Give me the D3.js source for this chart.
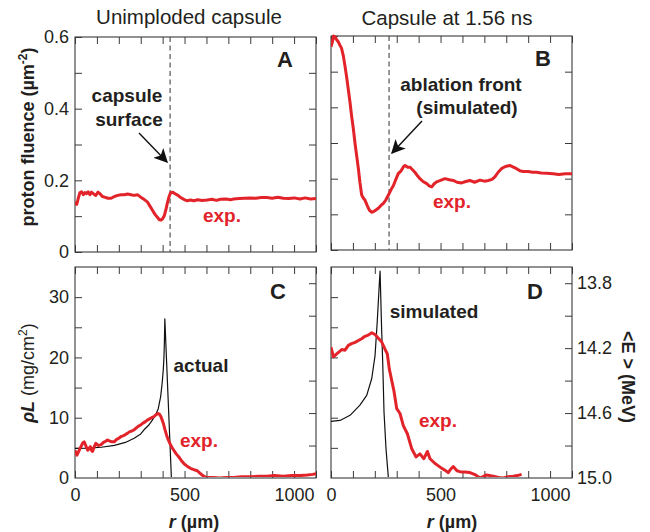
<!DOCTYPE html>
<html><head><meta charset="utf-8">
<script src="https://cdnjs.cloudflare.com/ajax/libs/d3/7.8.5/d3.min.js"></script>
<style>
body{margin:0;background:#fff;}
svg{display:block;font-family:"Liberation Sans",Arial,Helvetica,sans-serif;}
</style></head><body>
<svg id="c" width="650" height="532"></svg>
<script>
// ---------- DATA ----------
const titles = ["Unimploded capsule", "Capsule at 1.56 ns"];
const panelLetters = ["A", "B", "C", "D"];
const rTicksLabeled = [0, 500, 1000];
const fluenceTicksLabeled = [0, 0.2, 0.4, 0.6];
const rhoLTicksLabeled = [0, 10, 20, 30];
const energyTicksLabeled = [13.8, 14.2, 14.6, 15.0];

// Panel A: proton fluence, unimploded capsule (r µm, fluence µm^-2)
const fluenceA = [[0,0.140],[8,0.133],[15,0.150],[22,0.165],[30,0.168],[38,0.160],[45,0.166],[52,0.163],[60,0.168],[68,0.160],[75,0.167],[85,0.162],[95,0.158],[105,0.167],[115,0.162],[125,0.155],[135,0.153],[150,0.150],[165,0.150],[180,0.155],[195,0.158],[210,0.160],[225,0.160],[240,0.162],[255,0.160],[270,0.158],[285,0.160],[300,0.153],[315,0.147],[330,0.140],[342,0.128],[353,0.117],[365,0.105],[376,0.097],[385,0.090],[393,0.089],[400,0.093],[408,0.102],[415,0.118],[421,0.135],[428,0.152],[436,0.165],[445,0.167],[459,0.162],[470,0.158],[482,0.152],[497,0.147],[512,0.143],[527,0.145],[542,0.143],[560,0.146],[580,0.144],[603,0.145],[625,0.147],[645,0.144],[664,0.147],[690,0.148],[710,0.146],[724,0.148],[750,0.149],[775,0.150],[800,0.151],[825,0.150],[850,0.152],[876,0.152],[900,0.150],[925,0.153],[951,0.150],[975,0.149],[1000,0.151],[1027,0.148],[1050,0.151],[1075,0.148],[1100,0.149]];
// Panel B: proton fluence, capsule at 1.56 ns
const fluenceB = [[0,0.570],[5,0.580],[12,0.600],[18,0.598],[25,0.590],[33,0.584],[40,0.575],[48,0.566],[56,0.545],[64,0.515],[72,0.482],[79,0.450],[87,0.413],[94,0.376],[102,0.340],[109,0.302],[117,0.265],[125,0.228],[132,0.190],[140,0.154],[148,0.145],[155,0.140],[165,0.125],[175,0.112],[185,0.106],[193,0.107],[205,0.112],[216,0.117],[228,0.125],[239,0.131],[250,0.140],[262,0.154],[273,0.168],[285,0.181],[296,0.198],[307,0.214],[320,0.222],[330,0.233],[338,0.237],[350,0.232],[361,0.232],[372,0.225],[383,0.218],[395,0.208],[406,0.200],[420,0.192],[437,0.186],[448,0.180],[460,0.177],[470,0.185],[482,0.191],[500,0.195],[520,0.200],[540,0.197],[558,0.195],[575,0.190],[596,0.188],[615,0.192],[634,0.195],[655,0.190],[680,0.196],[700,0.193],[718,0.195],[735,0.198],[748,0.205],[763,0.218],[778,0.228],[796,0.234],[816,0.237],[830,0.233],[847,0.228],[862,0.222],[877,0.220],[900,0.220],[920,0.218],[938,0.218],[960,0.216],[985,0.215],[1014,0.214],[1040,0.212],[1070,0.214],[1100,0.214]];
// Panel C: areal density rhoL (mg/cm^2)
const rhoLExpC = [[0,4.6],[9,3.8],[18,4.5],[27,5.2],[35,5.8],[42,6.0],[50,5.3],[58,4.6],[64,4.9],[70,5.2],[75,4.6],[80,4.4],[88,5.2],[95,5.75],[105,5.4],[118,5.5],[130,5.9],[140,6.1],[148,6.3],[160,6.1],[170,6.0],[179,6.0],[190,6.4],[200,6.6],[209,6.85],[220,7.0],[230,7.2],[239,7.4],[250,7.7],[260,7.8],[270,8.0],[280,8.3],[290,8.6],[300,8.8],[310,9.1],[320,9.3],[330,9.6],[340,9.8],[350,10.0],[361,10.2],[370,10.5],[378,10.7],[385,10.6],[392,10.2],[398,9.6],[403,9.1],[410,8.1],[418,7.1],[425,6.4],[433,5.75],[442,5.1],[451,4.6],[462,4.0],[474,3.5],[485,2.9],[497,2.4],[510,2.0],[527,1.6],[542,1.4],[558,1.2],[570,0.8],[580,0.5],[592,0.2],[603,0.1],[630,0.1],[660,0.0],[690,0.1],[724,0.1],[760,0.2],[800,0.2],[840,0.3],[876,0.3],[910,0.4],[950,0.3],[990,0.4],[1027,0.4],[1060,0.5],[1085,0.6],[1100,0.7]];
const rhoLActualC = [[0,4.9],[60,4.95],[120,5.1],[180,5.4],[230,5.9],[270,6.6],[300,7.3],[315,8.0],[335,8.7],[353,9.6],[368,10.5],[380,11.5],[391,13.5],[398,15.8],[403,18.0],[406,20.0],[408,22.5],[410,26.4],[425,13.2],[440,0],[1100,0]];
// Panel D: rhoL at 1.56 ns
const rhoLExpD = [[0,21.7],[11,20.1],[26,20.6],[49,21.3],[64,21.2],[79,22.0],[94,22.3],[110,22.5],[125,22.8],[140,23.1],[155,23.5],[170,23.7],[186,24.1],[201,23.8],[216,23.2],[231,22.6],[246,21.4],[257,20.6],[266,18.1],[277,16.2],[287,14.5],[300,11.5],[315,10.7],[330,8.7],[349,7.3],[368,4.9],[388,3.5],[406,4.0],[424,3.2],[440,4.4],[452,3.2],[475,2.4],[498,1.8],[520,1.3],[535,0.9],[545,1.4],[558,1.9],[575,1.2],[588,1.05],[610,1.0],[634,0.9],[660,0.5],[680,0.0],[710,0.5],[741,0.3],[765,0.1],[786,0.0],[810,0.2],[832,0.3],[850,0.4],[870,0.6]];
const rhoLSimD = [[0,9.4],[41,9.55],[87,10.4],[132,12.1],[163,13.7],[186,16.5],[201,20.3],[211,25.9],[221,32.5],[224,34.3],[231,24.8],[236,19.2],[242,10.9],[251,4.9],[262,0],[1100,0]];

const markerPositions = {A: 434, B: 265}; // dashed reference lines (µm)

// ---------- LAYOUT ----------
const RED = "#e2232a", INK = "#231f20", AX = "#3a3a3a";
const svg = d3.select("#c");
const panels = [
  {id:"A", x0:75,  x1:316, y0:37,  y1:252},
  {id:"B", x0:331, x1:572, y0:36,  y1:250},
  {id:"C", x0:75,  x1:316, y0:267, y1:478},
  {id:"D", x0:331, x1:572, y0:267, y1:478}
];
panels.forEach(p=>{
  p.x = d3.scaleLinear().domain([0,1100]).range([p.x0,p.x1]);
  if (p.id==="A"||p.id==="B") p.y = d3.scaleLinear().domain([0,0.6]).range([p.y1,p.y0]);
  else p.y = d3.scaleLinear().domain([0,35]).range([p.y1,p.y0]);
  p.e = d3.scaleLinear().domain([13.7,15.0]).range([p.y0,p.y1]);
});
const P = Object.fromEntries(panels.map(p=>[p.id,p]));

function styleAxis(g){
  g.select(".domain").remove();
  g.selectAll(".tick line").attr("stroke",AX).attr("stroke-width",1);
  g.selectAll(".tick text").attr("fill",INK).style("font-size","18px").style("font-family","'Liberation Sans',Arial,sans-serif");
}
const TS = -7;
const xTicks = d3.range(0,1101,100);

panels.forEach(p=>{
  const g = svg.append("g");
  // top & bottom ticks
  g.append("g").attr("transform",`translate(0,${p.y0})`)
    .call(d3.axisTop(p.x).tickValues(xTicks).tickSize(TS).tickFormat("")).call(styleAxis);
  const bottom = g.append("g").attr("transform",`translate(0,${p.y1})`)
    .call(d3.axisBottom(p.x).tickValues(xTicks).tickSize(TS).tickPadding(10)
      .tickFormat(d => (p.id==="C"||p.id==="D") && rTicksLabeled.includes(d) ? d : "")).call(styleAxis);
  // left ticks
  if (p.id==="A"||p.id==="B"){
    g.append("g").attr("transform",`translate(${p.x0},0)`)
      .call(d3.axisLeft(p.y).tickValues(d3.range(0,0.61,0.1)).tickSize(TS).tickPadding(6)
        .tickFormat(d => p.id==="A" && fluenceTicksLabeled.some(v=>Math.abs(v-d)<1e-6) ? (d<1e-6?"0":d.toFixed(1)) : "")).call(styleAxis);
    g.append("g").attr("transform",`translate(${p.x1},0)`)
      .call(d3.axisRight(p.y).tickValues(d3.range(0.1,0.6,0.1)).tickSize(TS).tickFormat("")).call(styleAxis);
  } else {
    g.append("g").attr("transform",`translate(${p.x0},0)`)
      .call(d3.axisLeft(p.y).tickValues(d3.range(5,35,5)).tickSize(TS).tickPadding(6)
        .tickFormat(d => p.id==="C" && rhoLTicksLabeled.includes(d) ? d : "")).call(styleAxis);
    if (p.id==="C"){
      g.append("g").attr("transform",`translate(0,0)`).append("g")
        .attr("transform",`translate(${p.x0},0)`)
        .call(d3.axisLeft(p.y).tickValues(rhoLTicksLabeled.slice(0,1)).tickSize(0).tickPadding(6).tickFormat(d=>d)).call(styleAxis);
    }
    g.append("g").attr("transform",`translate(${p.x1},0)`)
      .call(d3.axisRight(p.e).tickValues(d3.range(13.8,14.95,0.2)).tickSize(TS).tickPadding(5)
        .tickFormat(d => p.id==="D" && energyTicksLabeled.some(v=>Math.abs(v-d)<1e-6) ? d.toFixed(1) : "")).call(styleAxis);
    if (p.id==="D"){
      g.append("g").attr("transform",`translate(${p.x1},0)`)
        .call(d3.axisRight(p.e).tickValues([15.0]).tickSize(0).tickPadding(5).tickFormat(d=>d.toFixed(1))).call(styleAxis);
    }
  }
  g.append("rect").attr("x",p.x0).attr("y",p.y0).attr("width",p.x1-p.x0).attr("height",p.y1-p.y0)
    .attr("fill","none").attr("stroke",AX).attr("stroke-width",1.1);
  // clip
  svg.append("clipPath").attr("id","clip"+p.id).append("rect")
    .attr("x",p.x0).attr("y",p.y0-2).attr("width",p.x1-p.x0).attr("height",p.y1-p.y0+1);
});

function drawLine(p, data, color, w){
  const line = d3.line().x(d=>p.x(d[0])).y(d=>p.y(d[1]));
  svg.append("path").datum(data).attr("d",line).attr("fill","none")
    .attr("stroke",color).attr("stroke-width",w).attr("stroke-linejoin","round")
    .attr("clip-path",`url(#clip${p.id})`);
}

// dashed markers
["A","B"].forEach(k=>{
  const p=P[k];
  svg.append("line").attr("x1",p.x(markerPositions[k])).attr("x2",p.x(markerPositions[k]))
    .attr("y1",p.y0).attr("y2",p.y1).attr("stroke","#444").attr("stroke-width",1.1).attr("stroke-dasharray","5,3.5");
});

drawLine(P.C, rhoLActualC, "#111", 1.2);
drawLine(P.D, rhoLSimD, "#111", 1.2);
drawLine(P.A, fluenceA, RED, 3);
drawLine(P.B, fluenceB, RED, 3);
drawLine(P.C, rhoLExpC, RED, 3);
drawLine(P.D, rhoLExpD, RED, 3);

// ---------- TEXT ----------
function txt(x,y,s,opt={}){
  return svg.append("text").attr("x",x).attr("y",y).attr("text-anchor",opt.anchor||"middle")
    .attr("fill",opt.fill||INK).style("font-size",(opt.size||19)+"px").style("font-weight",opt.weight||"bold")
    .text(s);
}
txt(189,24,titles[0],{size:20.5,weight:"normal"});
txt(447,25,titles[1],{size:20.5,weight:"normal"});

txt(285,67,panelLetters[0],{size:22});
txt(543,66,panelLetters[1],{size:22});
txt(278,299,panelLetters[2],{size:22});
txt(535,299,panelLetters[3],{size:22});

txt(127,102,"capsule");
txt(129,126,"surface");
txt(461,91,"ablation front");
txt(467,114,"(simulated)");
txt(222,222,"exp.",{fill:RED});
txt(452,208,"exp.",{fill:RED});
txt(199,447,"exp.",{fill:RED});
txt(438,427,"exp.",{fill:RED});
txt(201,372,"actual");
txt(434,318,"simulated");

// arrows
svg.append("defs").append("marker").attr("id","ah").attr("viewBox","0 0 10 10").attr("refX",9).attr("refY",5)
  .attr("markerWidth",14).attr("markerHeight",14).attr("markerUnits","userSpaceOnUse").attr("orient","auto")
  .append("path").attr("d","M0,0 L10,5 L0,10 L2.5,5 Z").attr("fill","#111");
svg.append("line").attr("x1",139).attr("y1",133).attr("x2",167).attr("y2",162)
  .attr("stroke","#111").attr("stroke-width",1.4).attr("marker-end","url(#ah)");
svg.append("line").attr("x1",422).attr("y1",121).attr("x2",392).attr("y2",153)
  .attr("stroke","#111").attr("stroke-width",1.4).attr("marker-end","url(#ah)");

// axis titles
const yl1 = svg.append("text").attr("transform","translate(34,137) rotate(-90)").attr("text-anchor","middle")
  .attr("fill",INK).style("font-size","18px").style("font-weight","bold");
yl1.append("tspan").text("proton fluence (µm");
yl1.append("tspan").attr("dy",-7).style("font-size","12px").text("-2");
yl1.append("tspan").attr("dy",7).text(")");

const yl2 = svg.append("text").attr("transform","translate(34,373) rotate(-90)").attr("text-anchor","middle")
  .attr("fill",INK).style("font-size","18px");
yl2.append("tspan").style("font-weight","bold").style("font-style","italic").text("ρL");
yl2.append("tspan").text(" (mg/cm");
yl2.append("tspan").attr("dy",-7).style("font-size","12px").text("2");
yl2.append("tspan").attr("dy",7).text(")");

svg.append("text").attr("transform","translate(622,377) rotate(90)").attr("text-anchor","middle")
  .attr("fill",INK).style("font-size","18px").style("font-weight","bold").text("<E > (MeV)");

[194,452].forEach(cx=>{
  const t = svg.append("text").attr("x",cx).attr("y",528).attr("text-anchor","middle")
    .attr("fill",INK).style("font-size","18px").style("font-weight","bold");
  t.append("tspan").style("font-style","italic").text("r");
  t.append("tspan").text(" (µm)");
});
</script>
</body></html>
